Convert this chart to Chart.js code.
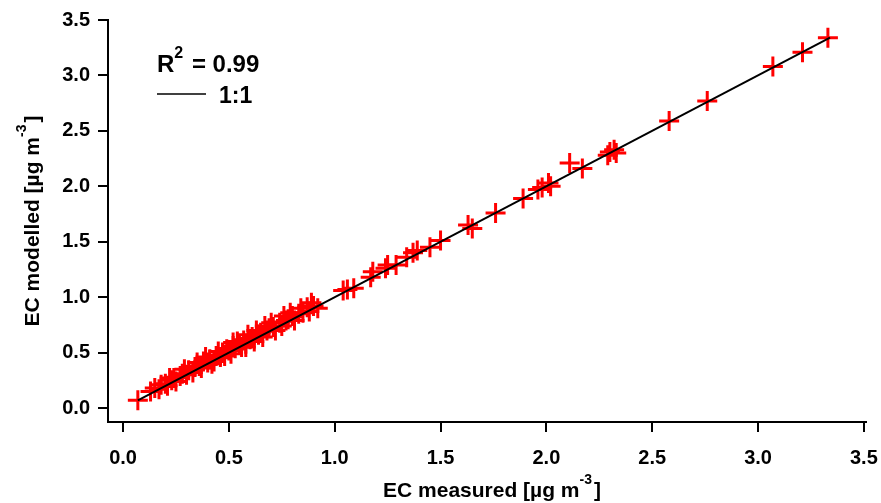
<!DOCTYPE html>
<html>
<head>
<meta charset="utf-8">
<script src="https://cdn.jsdelivr.net/npm/chart.js@4"></script>
<style>
    html, body { margin: 0; padding: 0; background: #fff; }
    canvas { display: block; }
</style>
</head>
<body>
<canvas id="chart" width="881" height="503"></canvas>
<script>
    // EC measured vs EC modelled
    const measured = [
        0.07, 0.13, 0.15, 0.17, 0.18, 0.20, 0.21, 0.23, 0.24, 0.25, 0.27, 0.28, 0.30, 0.31, 0.33,
        0.34, 0.36, 0.37, 0.38, 0.40, 0.41, 0.43, 0.44, 0.46, 0.47, 0.48, 0.49, 0.50, 0.51, 0.52,
        0.53, 0.55, 0.56, 0.57, 0.58, 0.60, 0.61, 0.62, 0.64, 0.65, 0.66, 0.68, 0.69, 0.71, 0.72,
        0.74, 0.75, 0.77, 0.78, 0.80, 0.81, 0.83, 0.85, 0.87, 0.88, 0.90, 0.92,
        0.22, 0.29, 0.35, 0.39, 0.42, 0.45, 0.52, 0.54, 0.58, 0.59, 0.63, 0.67, 0.70, 0.76, 0.79,
        0.84, 0.89,
        1.04, 1.06, 1.09, 1.17, 1.18, 1.24, 1.25, 1.29, 1.34, 1.37, 1.39, 1.45, 1.50, 1.63, 1.65,
        1.76, 1.89, 1.96, 1.98, 2.01, 2.02, 2.11, 2.17, 2.29, 2.30, 2.32, 2.33, 2.58, 2.76, 3.07,
        3.21, 3.33
    ];
    const modelled = [
        0.07, 0.15, 0.18, 0.17, 0.21, 0.22, 0.20, 0.25, 0.27, 0.24, 0.29, 0.31, 0.30, 0.34, 0.32,
        0.37, 0.38, 0.36, 0.42, 0.41, 0.44, 0.42, 0.47, 0.46, 0.50, 0.47, 0.53, 0.52, 0.49, 0.56,
        0.54, 0.57, 0.55, 0.61, 0.58, 0.62, 0.64, 0.60, 0.66, 0.68, 0.64, 0.70, 0.72, 0.73, 0.70,
        0.77, 0.74, 0.79, 0.80, 0.83, 0.79, 0.85, 0.86, 0.91, 0.87, 0.92, 0.90,
        0.27, 0.35, 0.41, 0.46, 0.40, 0.51, 0.59, 0.60, 0.55, 0.66, 0.70, 0.74, 0.77, 0.83, 0.86,
        0.90, 0.95,
        1.06, 1.07, 1.08, 1.18, 1.23, 1.26, 1.29, 1.29, 1.36, 1.40, 1.42, 1.45, 1.51, 1.65, 1.62,
        1.76, 1.89, 1.97, 1.99, 2.03, 2.00, 2.21, 2.16, 2.28, 2.31, 2.33, 2.30, 2.59, 2.77, 3.08,
        3.21, 3.34
    ];
    const oneToOne = [0.07, 3.34];
    const tickValues = [0, 0.5, 1.0, 1.5, 2.0, 2.5, 3.0, 3.5];
    const rSquared = '0.99';

    const FONT = "'Liberation Sans', Arial, sans-serif";

    // draws text followed by a raised exponent
    function textWithSup(ctx, base, sup, close, x, y, size, supSize) {
        ctx.font = `bold ${size}px ${FONT}`;
        ctx.textBaseline = 'alphabetic';
        ctx.textAlign = 'left';
        ctx.fillText(base, x, y);
        let cx = x + ctx.measureText(base).width;
        ctx.font = `bold ${supSize}px ${FONT}`;
        ctx.fillText(sup, cx, y - size * 0.6);
        cx += ctx.measureText(sup).width + 2;
        ctx.font = `bold ${size}px ${FONT}`;
        ctx.fillText(close, cx, y);
    }

    function supWidth(ctx, base, sup, close, size, supSize) {
        ctx.font = `bold ${size}px ${FONT}`;
        let w = ctx.measureText(base).width + ctx.measureText(close).width + 2;
        ctx.font = `bold ${supSize}px ${FONT}`;
        return w + ctx.measureText(sup).width;
    }

    const decorations = {
        id: 'decorations',
        afterDraw(chart) {
            const ctx = chart.ctx;
            const area = chart.chartArea;
            ctx.save();
            ctx.fillStyle = '#000';

            // x title
            const xw = supWidth(ctx, 'EC measured [µg m', '-3', ']', 21, 14);
            textWithSup(ctx, 'EC measured [µg m', '-3', ']', (area.left + area.right) / 2 - xw / 2 + 5, 497, 21, 14);

            // y title (rotated)
            const yw = supWidth(ctx, 'EC modelled [µg m', '-3', ']', 21, 14);
            ctx.save();
            ctx.translate(39, (area.top + area.bottom) / 2);
            ctx.rotate(-Math.PI / 2);
            textWithSup(ctx, 'EC modelled [µg m', '-3', ']', -yw / 2, 0, 21, 14);
            ctx.restore();

            // legend box
            textWithSup(ctx, 'R', '2', ' = ' + rSquared, 157, 72, 24, 16);
            ctx.strokeStyle = '#000';
            ctx.lineWidth = 1.5;
            ctx.beginPath();
            ctx.moveTo(157, 94);
            ctx.lineTo(206, 94);
            ctx.stroke();
            ctx.font = `bold 23px ${FONT}`;
            ctx.fillText('1:1', 219, 103);
            ctx.restore();
        }
    };

    const axisStyle = {
        type: 'linear',
        grid: {
            drawOnChartArea: false,
            drawTicks: true,
            tickLength: 10,
            color: '#000',
            lineWidth: 2
        },
        border: { display: true, color: '#000', width: 2 },
        afterBuildTicks: scale => {
            scale.ticks = tickValues.map(v => ({ value: v }));
        }
    };

    const ctx = document.getElementById('chart').getContext('2d');
    new Chart(ctx, {
        type: 'scatter',
        data: {
            datasets: [
                {
                    label: 'EC',
                    data: measured.map((m, i) => ({ x: m, y: modelled[i] })),
                    pointStyle: 'cross',
                    pointRadius: 10,
                    pointBorderWidth: 3,
                    borderColor: '#ff0000',
                    backgroundColor: '#ff0000',
                    order: 1
                },
                {
                    label: '1:1',
                    type: 'line',
                    data: oneToOne.map(v => ({ x: v, y: v })),
                    borderColor: '#000',
                    borderWidth: 2,
                    pointRadius: 0,
                    fill: false,
                    order: 0
                }
            ]
        },
        options: {
            responsive: false,
            animation: false,
            events: [],
            devicePixelRatio: 1,
            layout: { padding: { top: 20, right: 15, left: 0, bottom: 0 } },
            plugins: {
                legend: { display: false },
                tooltip: { enabled: false }
            },
            scales: {
                x: {
                    ...axisStyle,
                    min: -0.071,
                    max: 3.51,
                    ticks: {
                        color: '#000',
                        padding: 14,
                        font: { family: FONT, size: 20, weight: 'bold' },
                        callback: v => v.toFixed(1)
                    },
                    afterFit: scale => {
                        scale.height = 81;
                        scale.paddingLeft = 0;
                        scale.paddingRight = 0;
                    }
                },
                y: {
                    ...axisStyle,
                    min: -0.126,
                    max: 3.5,
                    ticks: {
                        color: '#000',
                        padding: 8,
                        font: { family: FONT, size: 20, weight: 'bold' },
                        callback: v => v.toFixed(1)
                    },
                    afterFit: scale => {
                        scale.width = 108;
                        scale.paddingTop = 0;
                        scale.paddingBottom = 0;
                    }
                }
            }
        },
        plugins: [decorations]
    });
</script>
</body>
</html>
